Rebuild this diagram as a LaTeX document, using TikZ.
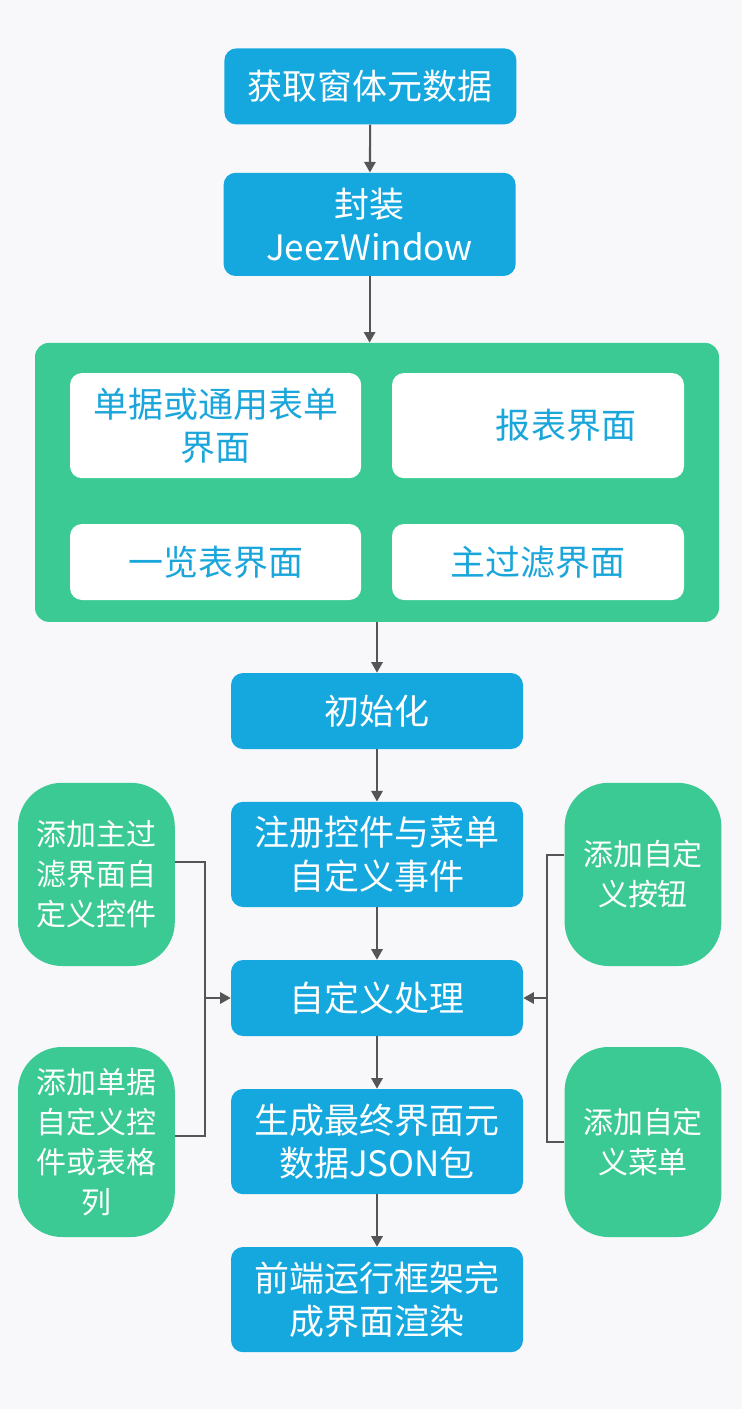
\documentclass[tikz,border=0pt]{standalone}
\usepackage{fontspec}
\setmainfont{Noto Sans CJK SC}
\usetikzlibrary{arrows.meta,calc,positioning}
\definecolor{PageBg}{HTML}{F8F8FB}
\definecolor{BoxBlue}{HTML}{14A8DF}
\definecolor{BoxGreen}{HTML}{3BCA94}
\definecolor{TextBlue}{HTML}{1AA6DB}
\definecolor{LineGray}{HTML}{555555}
\tikzstyle{proc} = [rectangle, rounded corners=0.3cm, minimum width=7.3cm, minimum height=1.9cm, fill=BoxBlue, text=white, align=center, font=\fontsize{24.9}{31}\selectfont]
\tikzstyle{pane} = [rectangle, rounded corners=0.3cm, minimum width=7.3cm, minimum height=1.9cm, fill=white, text=TextBlue, align=center, font=\fontsize{24.9}{31}\selectfont]
\tikzstyle{side} = [rectangle, rounded corners=1.1cm, minimum width=3.92cm, fill=BoxGreen, text=white, align=center, font=\fontsize{21.3}{28.5}\selectfont]
\tikzstyle{arrow} = [draw=LineGray, line width=1.5pt, -{Triangle[width=8pt,length=7.5pt]}]
\tikzstyle{line} = [draw=LineGray, line width=1.5pt]

\begin{document}
\begin{tikzpicture}
\fill[PageBg] (0,0) rectangle (18.55,-35.225);
\useasboundingbox (0,0) rectangle (18.55,-35.225);
% top of the chain
\node[proc] (get) at (9.26,-2.16) {获取窗体元数据};
\node[proc, minimum height=2.58cm] (wrap) at (9.24,-5.61) {封装\\JeezWindow};
% green container with the four kinds of form
\node[rectangle, rounded corners=0.35cm, minimum width=17.1cm, minimum height=6.975cm, fill=BoxGreen] (forms) at (9.425,-12.06) {};
\node[pane, minimum height=2.63cm, minimum width=7.28cm] (bill) at (5.39,-10.64) {单据或通用表单\\界面};
\node[pane, minimum height=2.63cm] (report) at (13.45,-10.64) {\hspace*{1.4cm}报表界面};
\node[pane, minimum width=7.28cm] (list) at (5.39,-14.05) {一览表界面};
\node[pane] (filter) at (13.45,-14.05) {主过滤界面};
% main steps
\node[proc] (init) at (9.425,-17.775) {初始化};
\node[proc, minimum height=2.63cm] (reg) at (9.425,-21.36) {注册控件与菜单\\自定义事件};
\node[proc] (custom) at (9.425,-24.95) {自定义处理};
\node[proc, minimum height=2.63cm] (gen) at (9.425,-28.54) {生成最终界面元\\数据JSON包};
\node[proc, minimum height=2.63cm] (render) at (9.425,-32.49) {前端运行框架完\\成界面渲染};
% side additions
\node[side, minimum height=4.58cm] (lt) at (2.41,-21.86) {添加主过\\滤界面自\\定义控件};
\node[side, minimum height=4.75cm] (lb) at (2.41,-28.55) {添加单据\\自定义控\\件或表格\\列};
\node[side, minimum height=4.58cm] (rt) at (16.075,-21.86) {添加自定\\义按钮};
\node[side, minimum height=4.75cm] (rb) at (16.075,-28.55) {添加自定\\义菜单};
\coordinate (lj) at (5.125,-24.95);
\coordinate (rj) at (13.675,-24.95);
% connectors
\path[arrow] (get) -- (wrap);
\path[arrow] (wrap.south) -- (wrap.south |- forms.north);
\path[arrow] (forms) -- (init);
\path[arrow] (init) -- (reg);
\path[arrow] (reg) -- (custom);
\path[arrow] (custom) -- (gen);
\path[arrow] (gen) -- (render);
\path[line] ([yshift=3mm]lt.east) -| (lj) |- ([yshift=1.5mm]lb.east);
\path[line] ([yshift=4.9mm]rt.west) -| (rj) |- (rb.west);
\path[arrow] (lj) -- (custom.west);
\path[arrow] (rj) -- (custom.east);
\end{tikzpicture}
\end{document}
